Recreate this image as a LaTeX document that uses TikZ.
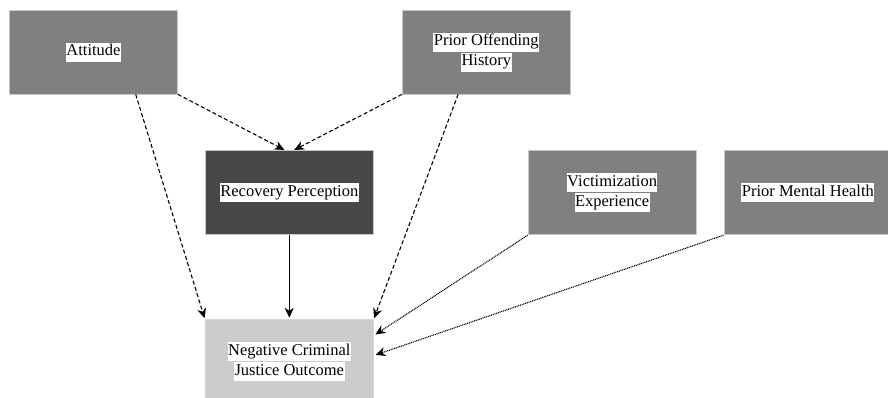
\documentclass[tikz,border=0pt]{standalone}
\usepackage{fontspec}
\setmainfont{Liberation Serif}
\usepackage{tikz}
\usetikzlibrary{arrows.meta,positioning,calc}
\definecolor{FactorGray}{HTML}{808080}
\definecolor{CoreGray}{HTML}{484848}
\definecolor{OutcomeGray}{HTML}{CCCCCC}
\definecolor{EdgeGray}{HTML}{C8C8C8}
\setlength{\fboxsep}{0.5pt}
\newcommand{\tagline}[1]{\colorbox{white}{\strut #1}}

\begin{document}
\begin{tikzpicture}[
    x=1pt,y=-1pt,
    box/.style={draw=EdgeGray,line width=0.8pt,minimum width=168pt,
      minimum height=84pt,align=center,inner sep=0pt,
      font=\fontsize{16.5}{18}\selectfont},
    factor/.style={box,fill=FactorGray},
    core/.style={box,fill=CoreGray},
    outcome/.style={box,fill=OutcomeGray,draw=OutcomeGray!80},
    dasharrow/.style={-{Stealth[length=10pt,width=9pt]},line width=1.1pt,
      dash pattern=on 4pt off 2.5pt,shorten >=1pt},
    dotarrow/.style={-{Stealth[length=10pt,width=9pt]},line width=1.1pt,
      dash pattern=on 1pt off 0.8pt,shorten >=2pt},
    plainarrow/.style={-{Stealth[length=10pt,width=9pt]},line width=1.2pt,
      shorten >=1.5pt}
  ]
    \useasboundingbox (0,0) rectangle (888,397);
    \node[factor] (att) at (93.5,52) {\tagline{Attitude}};
    \node[factor,right=224pt of att] (off) {\tagline{Prior Offending}\\\tagline{History}};
    \node[core,below right=56pt and 27pt of att] (rec) {\tagline{Recovery Perception}};
    \node[outcome,below=84pt of rec] (neg) {\tagline{Negative Criminal}\\\tagline{Justice Outcome}};
    \node[factor,right=154pt of rec] (vic) {\tagline{Victimization}\\\tagline{Experience}};
    \node[factor,right=27pt of vic] (mh) {\tagline{Prior Mental Health}};
    % dashed paths
    \draw[dasharrow] ($(att.south west)!0.75!(att.south east)$) -- (neg.north west);
    \draw[dasharrow] (att.south east) -- ([xshift=-4pt]rec.north);
    \draw[dasharrow] (off.south west) -- ([xshift=4pt]rec.north);
    \draw[dasharrow] ($(off.south west)!0.333!(off.south east)$) -- (neg.north east);
    \draw[plainarrow] (rec) -- (neg);
    % dotted paths
    \draw[dotarrow] (vic.south west) -- ([yshift=26pt]neg.east);
    \draw[dotarrow] (mh.south west) -- ([yshift=6pt]neg.east);
  \end{tikzpicture}
\end{document}
